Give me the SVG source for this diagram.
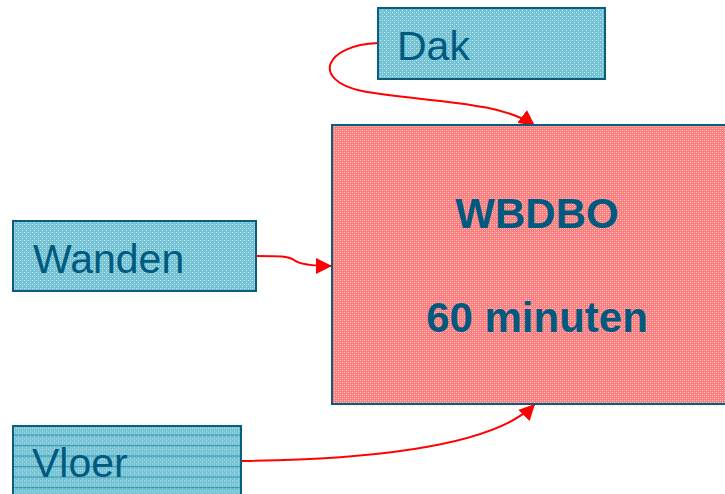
<svg xmlns="http://www.w3.org/2000/svg" width="725" height="494" viewBox="0 0 725 494">
<style>
.box{stroke:#0b5d80;stroke-width:2}
.t{fill:#005a80;font-family:"Liberation Sans",Arial,sans-serif}
.lbl{font-size:41px}
.big{font-size:42px;font-weight:bold}
.con{fill:none;stroke:#ff0000;stroke-width:2}
</style>
<defs>
<pattern id="teal" width="4" height="4" patternUnits="userSpaceOnUse">
<rect width="4" height="4" fill="#72c2d4"/>
<rect width="1" height="1" fill="#c4e6ee"/>
<rect x="2" y="2" width="1" height="1" fill="#c4e6ee"/>
<rect x="2" y="0" width="1" height="1" fill="#a3d6e2"/>
</pattern>
<pattern id="pink" width="4" height="4" patternUnits="userSpaceOnUse">
<rect width="4" height="4" fill="#fb7c7c"/>
<rect width="1" height="1" fill="#ffcccc"/>
<rect x="2" y="2" width="1" height="1" fill="#ffcccc"/>
<rect x="2" y="0" width="1" height="1" fill="#ffa8a8"/>
<rect x="0" y="2" width="1" height="1" fill="#ffa0a0"/>
</pattern>
<pattern id="lines" width="4" height="10.5" patternUnits="userSpaceOnUse" y="424">
<rect width="4" height="10.5" fill="url(#teal)"/>
<rect y="0" width="4" height="1.2" fill="#3f9bb3"/>
</pattern>
<marker id="ah" viewBox="0 0 10 10" refX="10" refY="5" markerWidth="16" markerHeight="16" markerUnits="userSpaceOnUse" orient="auto">
<path d="M0,0 L10,5 L0,10 Z" fill="#ff0000"/>
</marker>
</defs>
<g id="connectors">
<path class="con" marker-end="url(#ah)" d="M378,43 C325,45 310,80 362,91 C420,102 500,100 535,126"/>
<path class="con" marker-end="url(#ah)" d="M256,256 C280,256 288,256 294,260 C300,265 315,266 332,266"/>
<path class="con" marker-end="url(#ah)" d="M241,461 C400,459 500,440 535,404"/>
</g>
<g id="wbdbo">
<rect class="box" x="332" y="125" width="400" height="279" fill="url(#pink)"/>
<text class="t big" x="537" y="228" text-anchor="middle">WBDBO</text>
<text class="t big" x="537" y="332" text-anchor="middle">60 minuten</text>
</g>
<g id="dak">
<rect class="box" x="378" y="8" width="227" height="71" fill="url(#teal)"/>
<text class="t lbl" x="397" y="60">Dak</text>
</g>
<g id="wanden">
<rect class="box" x="13" y="221" width="243" height="70" fill="url(#teal)"/>
<text class="t lbl" x="33" y="273">Wanden</text>
</g>
<g id="vloer">
<rect class="box" x="13" y="426" width="228" height="80" fill="url(#lines)"/>
<text class="t lbl" x="32" y="477">Vloer</text>
</g>
</svg>
